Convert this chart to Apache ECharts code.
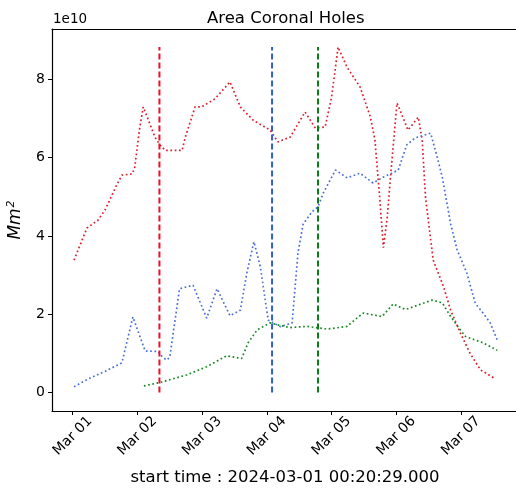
<!DOCTYPE html>
<html>
<head>
<meta charset="utf-8">
<script src="https://cdn.jsdelivr.net/npm/echarts@6/dist/echarts.min.js"></script>
<style>
    html, body { margin: 0; padding: 0; background: #fff; }
    #chart { width: 516px; height: 492px; }
</style>
</head>
<body>
<div id="chart"></div>
<script>
// days since 2024-03-01 00:00, values in units of 1e10 Mm^2
var redDays  = [0.02, 0.22, 0.39, 0.5, 0.68, 0.76, 0.92, 0.96, 1.03, 1.09, 1.14, 1.27, 1.35, 1.43, 1.69, 1.74, 1.89, 1.99, 2.2, 2.43, 2.59, 2.79, 3.05, 3.17, 3.36, 3.59, 3.75, 3.9, 4.0, 4.1, 4.24, 4.44, 4.6, 4.67, 4.75, 4.8, 4.86, 4.91, 5.01, 5.06, 5.18, 5.34, 5.4, 5.45, 5.5, 5.57, 5.73, 5.84, 5.99, 6.14, 6.3, 6.53];
var redVals  = [3.38, 4.2, 4.4, 4.66, 5.3, 5.55, 5.58, 5.76, 6.7, 7.29, 7.08, 6.52, 6.32, 6.18, 6.18, 6.52, 7.29, 7.29, 7.5, 7.93, 7.29, 6.95, 6.7, 6.4, 6.52, 7.16, 6.75, 6.78, 7.54, 8.82, 8.3, 7.8, 7.03, 6.44, 4.83, 3.7, 4.48, 5.5, 7.39, 7.2, 6.7, 7.03, 6.44, 5.0, 4.32, 3.38, 2.7, 2.1, 1.52, 1.0, 0.58, 0.35];

var blueDays = [0.02, 0.24, 0.5, 0.76, 0.93, 1.12, 1.32, 1.38, 1.45, 1.5, 1.65, 1.86, 2.07, 2.23, 2.43, 2.59, 2.69, 2.8, 2.9, 3.02, 3.21, 3.39, 3.48, 3.56, 3.7, 3.79, 3.87, 4.06, 4.24, 4.44, 4.64, 4.8, 4.93, 5.03, 5.16, 5.29, 5.53, 5.63, 5.71, 5.84, 5.94, 6.09, 6.22, 6.34, 6.45, 6.57];
var blueVals = [0.15, 0.35, 0.54, 0.76, 1.93, 1.06, 1.05, 0.92, 0.83, 0.9, 2.65, 2.74, 1.9, 2.65, 1.96, 2.1, 3.05, 3.85, 3.2, 1.85, 1.68, 1.78, 3.56, 4.3, 4.62, 4.74, 5.09, 5.68, 5.48, 5.6, 5.35, 5.5, 5.6, 5.68, 6.32, 6.5, 6.62, 6.02, 5.5, 4.3, 3.64, 3.05, 2.28, 2.03, 1.78, 1.3];

var greenDays = [1.1, 1.35, 1.76, 2.07, 2.38, 2.61, 2.71, 2.85, 3.05, 3.21, 3.36, 3.62, 3.93, 4.24, 4.39, 4.49, 4.78, 4.95, 5.14, 5.55, 5.71, 5.84, 5.99, 6.07, 6.34, 6.56];
var greenVals = [0.17, 0.26, 0.45, 0.66, 0.94, 0.87, 1.27, 1.6, 1.78, 1.71, 1.66, 1.69, 1.62, 1.69, 1.9, 2.03, 1.94, 2.26, 2.12, 2.36, 2.29, 1.94, 1.6, 1.43, 1.27, 1.08];

var eventDays   = [1.34, 3.08, 3.79];
var eventColors = ['#e8102a', '#2f5fd0', '#0a7d16'];

var tickDays   = [0, 1, 2, 3, 4, 5, 6];
var tickLabels = ['Mar 01', 'Mar 02', 'Mar 03', 'Mar 04', 'Mar 05', 'Mar 06', 'Mar 07'];
var yTicks     = [0, 2, 4, 6, 8];

var FONT = 'DejaVu Sans';

function pairs(xs, ys){
    var out = [];
    for(let i = 0; i < xs.length; i++)
        out.push([xs[i], ys[i]]);
    return out;
}

function dotted(name, color, xs, ys){
    return {
        name: name,
        type: 'line',
        data: pairs(xs, ys),
        showSymbol: false,
        lineStyle: { color: color, width: 1.7, type: [1.7, 2.6] },
        z: 2
    };
}

var series = [
    dotted('red', '#dc1f2c', redDays, redVals),
    dotted('blue', '#4a6fd8', blueDays, blueVals),
    dotted('green', '#178a22', greenDays, greenVals)
];

var topVal = Math.max.apply(null, redVals);
for(let i = 0; i < eventDays.length; i++){
    series.push({
        type: 'line',
        data: [[eventDays[i], 0], [eventDays[i], topVal]],
        showSymbol: false,
        lineStyle: { color: eventColors[i], width: 2, type: [6, 3] },
        z: 3
    });
}

var chart = echarts.init(document.getElementById('chart'));
chart.setOption({
    animation: false,
    backgroundColor: '#fff',
    title: {
        text: 'Area Coronal Holes',
        left: 202,
        top: 5,
        textStyle: { fontFamily: FONT, fontSize: 16.5, fontWeight: 'normal', color: '#000' }
    },
    graphic: [{
        type: 'text',
        left: 53,
        top: 12,
        style: { text: '1e10', fontFamily: FONT, fontSize: 13.5, fill: '#000' }
    }],
    grid: {
        left: 52, top: 29, right: -2, bottom: 81,
        outerBoundsMode: 'none',
        containLabel: false
    },
    xAxis: [{
        type: 'value',
        min: -0.32,
        max: 6.88,
        splitLine: { show: false },
        axisLine: { show: true, onZero: false, lineStyle: { color: '#000', width: 1.2 } },
        axisTick: { show: true, length: 4, customValues: tickDays, lineStyle: { color: '#000' } },
        axisLabel: {
            customValues: tickDays,
            rotate: 45,
            align: 'center',
            verticalAlign: 'middle',
            margin: 25,
            fontFamily: FONT,
            fontSize: 14,
            color: '#000',
            formatter: function(v){ return tickLabels[Math.round(v)]; }
        },
        name: 'start time : 2024-03-01 00:20:29.000',
        nameLocation: 'middle',
        nameGap: 58,
        nameTextStyle: { fontFamily: FONT, fontSize: 16.5, color: '#000' }
    }, {
        type: 'value',
        position: 'top',
        min: -0.32,
        max: 6.88,
        splitLine: { show: false },
        axisLine: { show: true, onZero: false, lineStyle: { color: '#000', width: 1.2 } },
        axisTick: { show: false },
        axisLabel: { show: false }
    }],
    yAxis: {
        type: 'value',
        min: -0.47,
        max: 9.28,
        splitLine: { show: false },
        axisLine: { show: true, onZero: false, lineStyle: { color: '#000', width: 1.2 } },
        axisTick: { show: true, length: 4, customValues: yTicks, lineStyle: { color: '#000' } },
        axisLabel: {
            customValues: yTicks,
            margin: 7,
            fontFamily: FONT,
            fontSize: 14,
            color: '#000'
        },
        name: '{i|Mm}{s|2}',
        nameLocation: 'middle',
        nameGap: 26,
        nameTextStyle: {
            rich: {
                i: { fontFamily: FONT, fontSize: 17, fontStyle: 'italic', color: '#000', lineHeight: 20 },
                s: { fontFamily: FONT, fontSize: 11, fontStyle: 'italic', color: '#000', lineHeight: 20, padding: [0, 0, 9, 1] }
            }
        }
    },
    series: series
});
</script>
</body>
</html>
